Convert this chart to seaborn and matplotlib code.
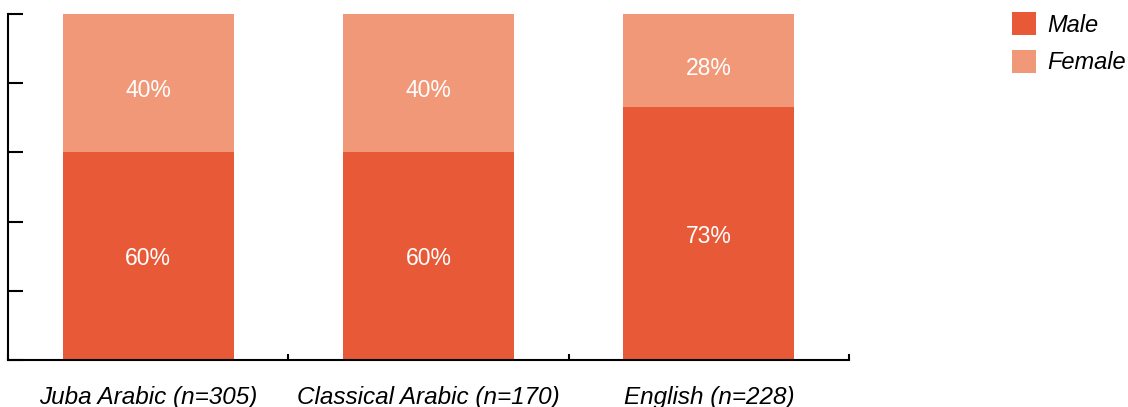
import matplotlib
matplotlib.use("Agg")
import matplotlib.pyplot as plt
import seaborn as sns
import pandas as pd

# values
languages = ["Juba Arabic (n=305)", "Classical Arabic (n=170)", "English (n=228)"]
male_pct = [60, 60, 73]
female_pct = [40, 40, 28]

male_color = "#E85A37"
female_color = "#F19878"

sns.set_style("white")
plt.rcParams["font.family"] = ["Liberation Sans", "DejaVu Sans"]
plt.rcParams["text.color"] = "black"
plt.rcParams["xtick.color"] = "black"
plt.rcParams["ytick.color"] = "black"

df = pd.DataFrame({"language": languages, "male": male_pct, "female": female_pct})
df["total"] = df["male"] + df["female"]

fig = plt.figure(figsize=(11.28, 4.07), dpi=100)
ax = fig.add_axes([8 / 1128, 47 / 407, 841 / 1128, 346 / 407])

# stacked bars: total first (female colour), male drawn over it
sns.barplot(data=df, x="language", y="total", color=female_color, width=0.61,
            saturation=1, linewidth=0, ax=ax, label="Female")
sns.barplot(data=df, x="language", y="male", color=male_color, width=0.61,
            saturation=1, linewidth=0, ax=ax, label="Male")

ax.set_ylim(0, 100)
ax.set_xlim(-0.5, len(languages) - 0.5)

for i, row in df.iterrows():
    ax.text(i, row["male"] / 2, f"{row['male']}%", ha="center",
            va="center_baseline", color="white", fontsize=16.5)
    top = min(row["total"], 100)
    # female labels sit a little below the segment middle in the reference
    ax.text(i, (row["male"] + top) / 2 - 1.5, f"{row['female']}%", ha="center",
            va="center_baseline", color="white", fontsize=16.5)

# axes styling
for side in ["top", "right"]:
    ax.spines[side].set_visible(False)
for side in ["left", "bottom"]:
    ax.spines[side].set_linewidth(1.5)
    ax.spines[side].set_color("black")

ax.set_yticks(range(0, 101, 20))
ax.set_yticklabels([])
ax.tick_params(axis="y", left=True, direction="in", length=11, width=1.5,
               color="black")

ax.set_xticks(range(len(languages)))
ax.set_xticklabels(languages, fontsize=17.5, style="italic", color="black")
ax.set_xticks([-0.5, 0.5, 1.5, 2.5], minor=True)
ax.tick_params(axis="x", which="major", bottom=True, length=0, pad=18.5)
ax.tick_params(axis="x", which="minor", bottom=True, direction="in",
               length=4.5, width=1.5, color="black")
ax.set_xlabel("")
ax.set_ylabel("")

handles, labels = ax.get_legend_handles_labels()
order = [labels.index("Male"), labels.index("Female")]
leg = fig.legend([handles[k] for k in order], [labels[k] for k in order],
                 loc="upper left", bbox_to_anchor=(1012 / 1128, 1 - 12 / 407),
                 frameon=False, fontsize=17, handlelength=1.0, handleheight=1.15,
                 handletextpad=0.5, labelspacing=0.55, borderpad=0,
                 borderaxespad=0)
for t in leg.get_texts():
    t.set_fontstyle("italic")
    t.set_color("black")
if ax.get_legend() is not None:
    ax.get_legend().remove()

fig.savefig("out.png", dpi=100)
